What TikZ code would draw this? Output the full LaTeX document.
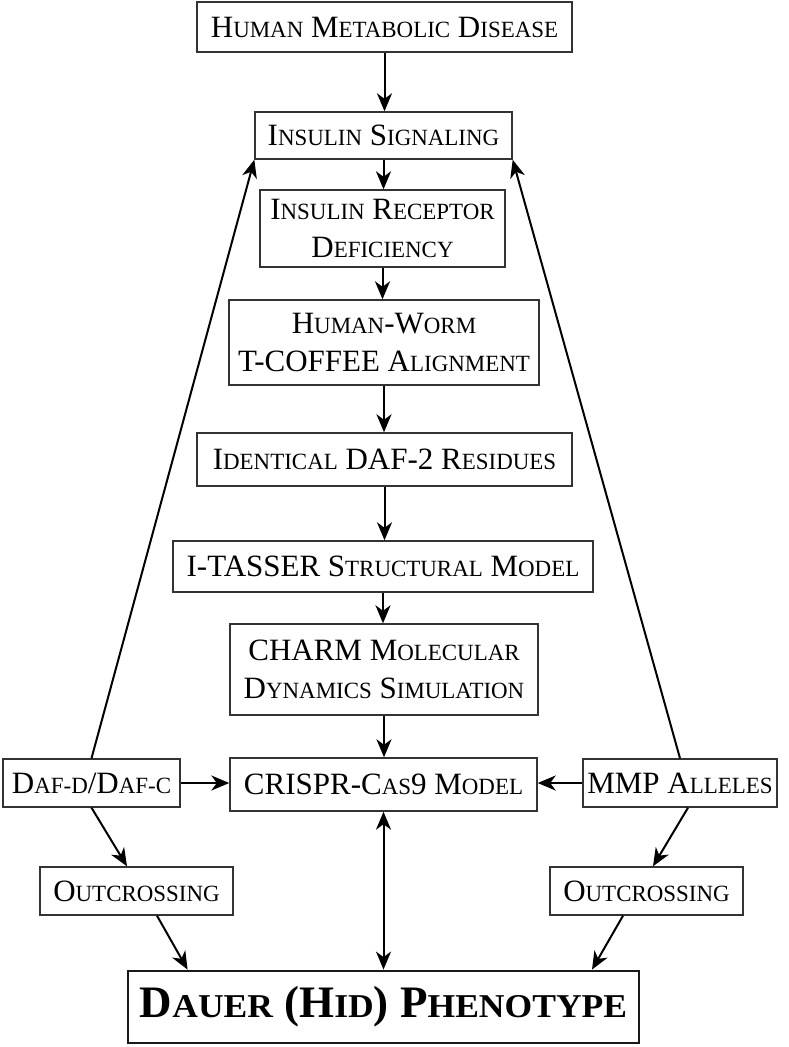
\documentclass[tikz,border=0pt]{standalone}
\usepackage{graphicx}
\usepackage{fontspec}
\setmainfont{Liberation Serif}
\usetikzlibrary{arrows.meta,calc}
\newcommand\smc[1]{\scalebox{0.74}[0.75]{\MakeUppercase{#1}}}
\newcommand\smcb[1]{\scalebox{0.79}[0.74]{\MakeUppercase{#1}}}
\begin{document}
\begin{tikzpicture}[x=1pt,y=-1pt,
  box/.style={draw=black!80, line width=1.4pt, rectangle, inner sep=0pt, align=center,
    font=\fontsize{31}{38}\selectfont},
  bigbox/.style={draw=black!90, line width=2.8pt, rectangle, inner sep=0pt, align=center,
    font=\fontsize{45}{50}\selectfont\bfseries},
  tip/.tip={Stealth[length=18pt,width=15pt,inset=5.5pt]},
  arr/.style={-tip, line width=2pt},
  darr/.style={tip-tip, line width=2pt},
]
\useasboundingbox (0,0) rectangle (789,1047);

\node[box, minimum width=375pt, minimum height=50pt] (hmd) at (384.5,27) {H\smc{uman} M\smc{etabolic} D\smc{isease}};
\node[box, minimum width=257pt, minimum height=47pt] (ins) at (383.5,135.5) {I\smc{nsulin} S\smc{ignaling}};
\node[box, minimum width=245pt, minimum height=77pt] (ird) at (382.5,228.5) {I\smc{nsulin} R\smc{eceptor}\\D\smc{eficiency}};
\node[box, minimum width=310pt, minimum height=85pt] (hw) at (384,342.5) {H\smc{uman}-W\smc{orm}\\T-COFFEE A\smc{lignment}};
\node[box, minimum width=375pt, minimum height=53pt] (ida) at (384.5,459.5) {I\smc{dentical} DAF-2 R\smc{esidues}};
\node[box, minimum width=420pt, minimum height=51pt] (it) at (383,566.5) {I-TASSER S\smc{tructural} M\smc{odel}};
\node[box, minimum width=308pt, minimum height=91pt] (ch) at (384,669.5) {CHARM M\smc{olecular}\\D\smc{ynamics} S\smc{imulation}};
\node[box, minimum width=307pt, minimum height=53pt] (cr) at (383.5,784.5) {CRISPR-C\smc{as}9 M\smc{odel}};
\node[box, minimum width=177pt, minimum height=48pt] (daf) at (91.5,783) {D\smc{af-d}/D\smc{af-c}};
\node[box, minimum width=194pt, minimum height=48pt] (mmp) at (680,783) {MMP A\smc{lleles}};
\node[box, minimum width=193pt, minimum height=48pt] (ol) at (136.5,891) {O\smc{utcrossing}};
\node[box, minimum width=193pt, minimum height=48pt] (or) at (646.5,891) {O\smc{utcrossing}};
\node[bigbox, minimum width=511pt, minimum height=72pt] (dauer) at (383.5,1007) {D\smcb{auer} (H\smcb{id}) P\smcb{henotype}};

\draw[arr] (hmd.south) -- (hmd.south |- ins.north);
\draw[arr] (ins.south) -- (ins.south |- ird.north);
\draw[arr] (ird.south) -- (ird.south |- hw.north);
\draw[arr] (hw.south) -- (hw.south |- ida.north);
\draw[arr] (ida.south) -- (ida.south |- it.north);
\draw[arr] (it.south) -- (it.south |- ch.north);
\draw[arr] (ch.south) -- (ch.south |- cr.north);
\draw[darr] (cr.south) -- (cr.south |- dauer.north);

\draw[arr] (daf.north) -- (ins.south west);
\draw[arr] (mmp.north) -- (ins.south east);
\draw[arr] (daf.east) -- (daf.east -| cr.west);
\draw[arr] (mmp.west) -- (mmp.west -| cr.east);
\draw[arr] (daf.south) -- ($(ol.north)+(-9.5,0)$);
\draw[arr] ($(ol.south)+(20.5,0)$) -- ($(dauer.north west)+(61,0)$);
\draw[arr] ($(mmp.south)+(8,0)$) -- ($(or.north)+(6.5,0)$);
\draw[arr] ($(or.south)+(-23.5,0)$) -- ($(dauer.north)+(208.5,0)$);
\end{tikzpicture}
\end{document}
